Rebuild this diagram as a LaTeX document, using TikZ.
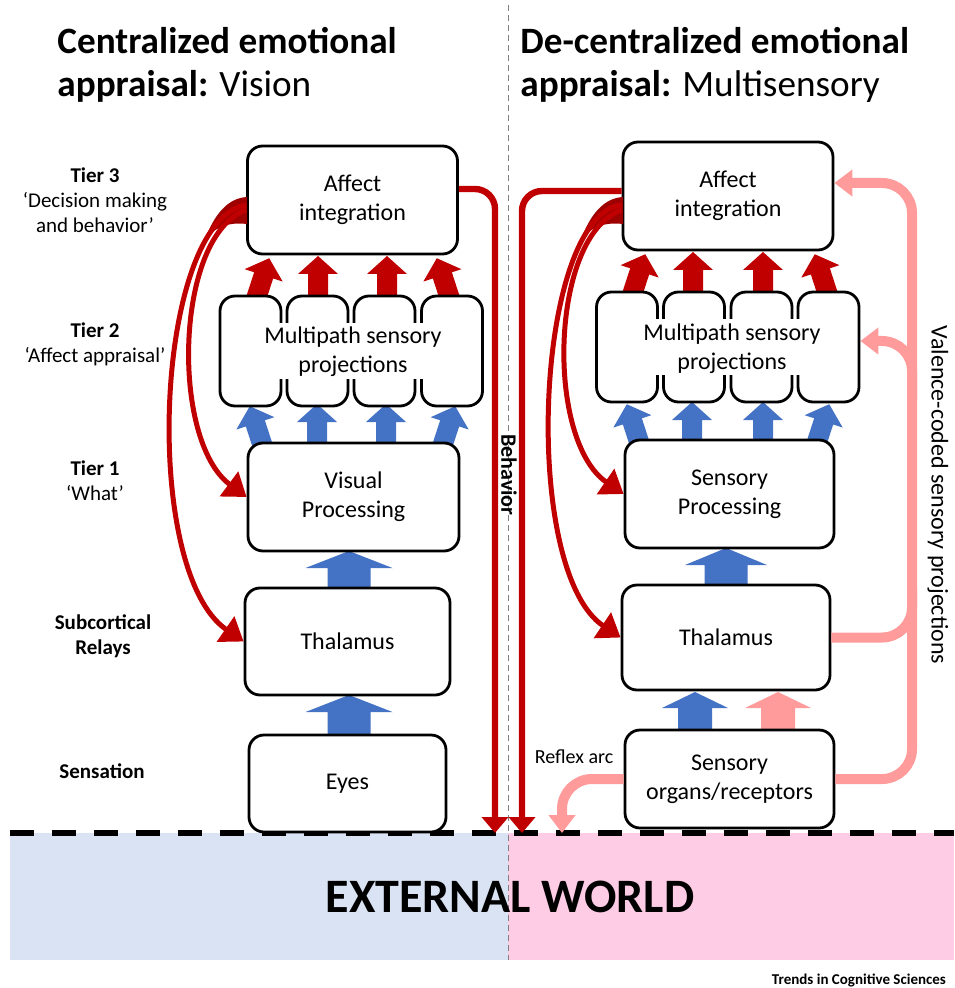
\documentclass[tikz,border=0pt]{standalone}
\usepackage{fontspec}
\setmainfont{Carlito}
\usepackage{tikz}
\usetikzlibrary{arrows.meta}

\definecolor{fbred}{HTML}{C00000}
\definecolor{fbdark}{HTML}{9E0000}
\definecolor{ffblue}{HTML}{4472C4}
\definecolor{vcpink}{HTML}{FF9B9B}
\definecolor{wldblue}{HTML}{DAE3F3}
\definecolor{wldpink}{HTML}{FFCCE6}

% fat arrow: colour, x, y, angle, length, shaft, head length, head width
\newcommand{\fatarrow}[8]{%
  \begin{scope}[shift={(#2,#3)},rotate=#4]
    \fill[#1] ({-#6/2},0) -- ({-#6/2},{#7-#5}) -- ({-#8/2},{#7-#5}) -- (0,{-#5})
      -- ({#8/2},{#7-#5}) -- ({#6/2},{#7-#5}) -- ({#6/2},0) -- cycle;
  \end{scope}}

\begin{document}
\begin{tikzpicture}[x=0.5pt,y=-0.5pt]
  \tikzstyle{box}=[draw,fill=white,line width=1.4pt,rounded corners=7.5pt,
                   align=center,font=\fontsize{12}{14.5}\selectfont]
  \tikzstyle{col}=[box,minimum width=30.5pt,minimum height=55pt]
  \tikzstyle{tier}=[align=center,font=\fontsize{10.5}{12.5}\selectfont]
  \tikzstyle{title}=[anchor=north west,align=left,inner sep=0pt,
                     font=\fontsize{18.6}{21.5}\selectfont]
  \tikzstyle{feedback}=[fbred,line width=2.5pt,-{Triangle[width=15pt,length=11pt]}]
  \tikzstyle{behave}=[fbred,line width=3.2pt,rounded corners=10pt,
                      -{Triangle[width=13pt,length=8pt]}]
  \tikzstyle{valence}=[vcpink,line width=5pt,rounded corners=15pt]
  \tikzstyle{vtip}=[-{Triangle[width=13pt,length=9pt]}]

  \useasboundingbox (0,0) rectangle (954,988);

  % external world
  \fill[wldblue] (10,833) rectangle (508,960);
  \fill[wldpink] (508,833) rectangle (954,960);
  \draw[gray,densely dashed,line width=0.4pt] (508,5) -- (508,960);
  \draw[line width=3pt,dash pattern=on 12pt off 9pt] (10,833) -- (954,833);
  \node[font=\fontsize{24}{28}\selectfont\bfseries] (world) at (510,897) {EXTERNAL WORLD};
  \node[anchor=east,font=\fontsize{7.5}{9}\selectfont\bfseries] (trends) at (953,980)
    {Trends in Cognitive Sciences};

  % titles
  \node[title] (ttlL) at (57,27)
    {\textbf{Centralized emotional}\\\textbf{appraisal:} Vision};
  \node[title] (ttlR) at (520,27)
    {\textbf{De-centralized emotional}\\\textbf{appraisal:} Multisensory};

  % tiers
  \node[tier] (tier3) at (95,200) {\textbf{Tier 3}\\‘Decision making\\and behavior’};
  \node[tier] (tier2) at (95,344) {\textbf{Tier 2}\\‘Affect appraisal’};
  \node[tier] (tier1) at (95,481) {\textbf{Tier 1}\\‘What’};
  \node[tier,font=\fontsize{10.5}{12.5}\selectfont\bfseries] (relay) at (103,636) {Subcortical\\Relays};
  \node[tier,font=\fontsize{10.5}{12.5}\selectfont\bfseries] (sens) at (102,771) {Sensation};

  % fat arrows, under the boxes
  \foreach \x/\a in {264/18,317/0,386/0,441/-18}
    \fatarrow{ffblue}{\x}{450}{\a}{46}{20}{18}{40};
  \foreach \x/\a in {255/-18,318/0,387/0,451/18}
    \fatarrow{fbred}{\x}{302}{\a}{46}{20}{18}{40};
  \foreach \x/\a in {641/18,692/0,763/0,815/-18}
    \fatarrow{ffblue}{\x}{448}{\a}{46}{20}{18}{40};
  \foreach \x/\a in {631/-18,693/0,763/0,829/18}
    \fatarrow{fbred}{\x}{298}{\a}{46}{20}{18}{40};
  \fatarrow{ffblue}{349}{595}{0}{44}{43}{17}{87}
  \fatarrow{ffblue}{349}{740}{0}{45}{43}{17}{87}
  \fatarrow{ffblue}{726}{590}{0}{42}{43}{17}{82}
  \fatarrow{ffblue}{695}{735}{0}{43}{34}{16}{66}
  \fatarrow{vcpink}{778}{735}{0}{43}{34}{16}{66}

  % vision
  \node[box,minimum width=105pt,minimum height=54pt] (affL) at (352.5,200) {Affect\\integration};
  \foreach \x [count=\i] in {250.5,317.5,384.5,452}
    \node[col] (mpL\i) at (\x,351) {};
  \fill[white] ([xshift=-3pt,yshift=-14pt]mpL1.north east) rectangle ([xshift=3pt,yshift=14pt]mpL4.south west);
  \node[align=center,font=\fontsize{12}{14.5}\selectfont] (mpL) at (353,352) {Multipath sensory\\projections};
  \node[box,minimum width=105.5pt,minimum height=54pt] (visL) at (353.5,497) {Visual\\Processing};
  \node[box,minimum width=102.5pt,minimum height=53.5pt] (thalL) at (347.5,641.5) {Thalamus};
  \node[box,minimum width=98.5pt,minimum height=48.5pt] (eyes) at (347.5,783.5) {Eyes};

  % multisensory
  \node[box,minimum width=105pt,minimum height=54pt] (affR) at (728,196) {Affect\\integration};
  \foreach \x [count=\i] in {627,694,761.5,828.5}
    \node[col] (mpR\i) at (\x,347) {};
  \fill[white] ([xshift=-3pt,yshift=-14pt]mpR1.north east) rectangle ([xshift=3pt,yshift=14pt]mpR4.south west);
  \node[align=center,font=\fontsize{12}{14.5}\selectfont] (mpR) at (732,349) {Multipath sensory\\projections};
  \node[box,minimum width=104.5pt,minimum height=54pt] (sprR) at (729.5,494) {Sensory\\Processing};
  \node[box,minimum width=104pt,minimum height=52.5pt] (thalR) at (726,637.5) {Thalamus};
  \node[box,minimum width=104.5pt,minimum height=49pt] (orgR) at (729.5,779) {Sensory\\organs/receptors};

  \coordinate (gndL) at (495,833);
  \coordinate (gndR) at (522,833);
  \coordinate (gndRf) at (562,833);
  \coordinate (vtop) at (912,183);
  \coordinate (vmid) at (912,590);
  \coordinate (vbr) at (912,400);

  % feedback from tier 3
  \fill[fbdark] (247,197) .. controls (228,198) and (214,214) .. (204,242)
    .. controls (214,226) and (230,222) .. (247,224) -- cycle;
  \draw[feedback] ([yshift=-5pt]affL.west) .. controls (175,235) and (170,440) .. (visL.west);
  \draw[feedback] ([yshift=-2.5pt]affL.west) .. controls (155,220) and (140,570) .. (thalL.west);
  \fill[fbdark] (623,197) .. controls (604,198) and (590,214) .. (580,242)
    .. controls (590,226) and (606,222) .. (623,224) -- cycle;
  \draw[feedback] ([yshift=-7pt]affR.west) .. controls (550,235) and (545,440) .. (sprR.west);
  \draw[feedback] ([yshift=-4.5pt]affR.west) .. controls (535,215) and (520,570) .. (thalR.west);

  % behavior
  \draw[behave] ([yshift=5.5pt]affL.east) -| (gndL);
  \draw[behave] ([yshift=2.5pt]affR.west) -| (gndR);
  \node[rotate=-90,font=\fontsize{11}{13}\selectfont\bfseries] (behav) at (509,475) {Behavior};

  % valence-coded projections
  \draw[valence,vtip] (orgR.east) -| (vtop) -- ([yshift=6.5pt]affR.east);
  \draw[valence] (thalR.east) -| (vmid);
  \draw[valence,vtip] (vbr) |- ([yshift=3pt]mpR4.east);
  \draw[valence,vtip] (orgR.west) -| (gndRf);
  \node[rotate=-90,font=\fontsize{12}{14}\selectfont] (vlabel) at (938,495) {Valence-coded sensory projections};
  \node[font=\fontsize{10}{12}\selectfont] (reflex) at (574,757) {Reflex arc};
\end{tikzpicture}
\end{document}
